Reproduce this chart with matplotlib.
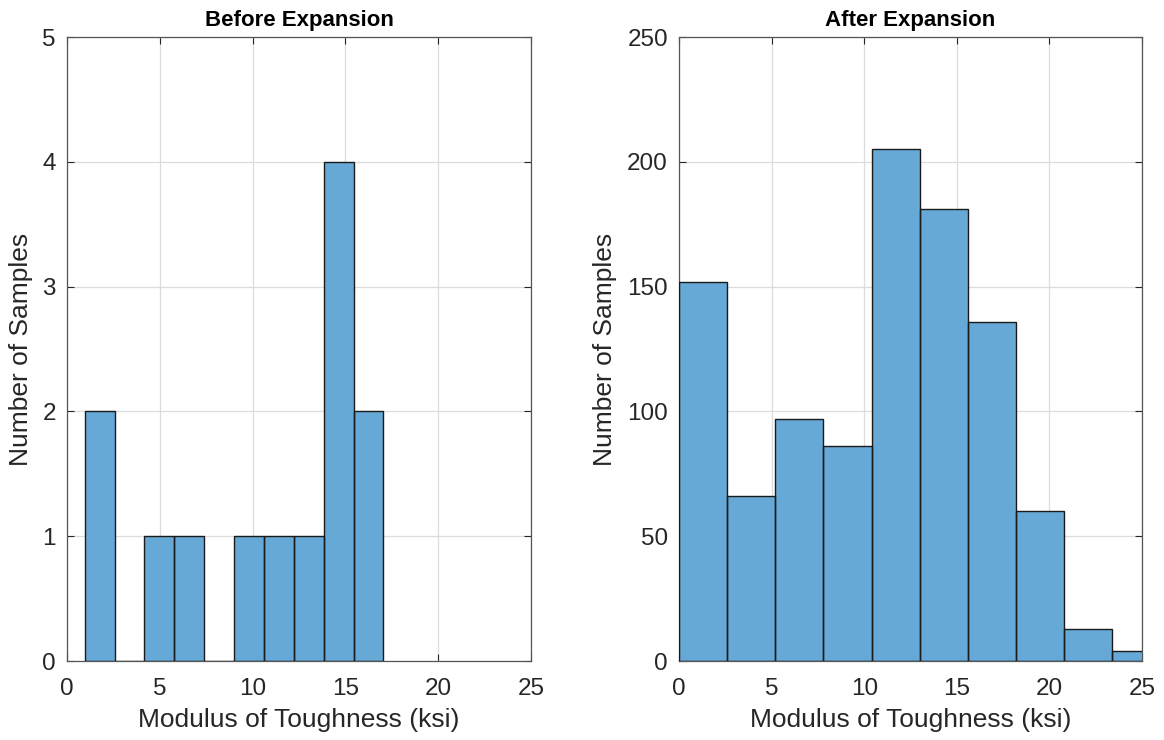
import numpy as np
import matplotlib.pyplot as plt

plt.rcParams['font.family'] = ['Liberation Sans', 'DejaVu Sans']
plt.rcParams['font.stretch'] = 'normal'

# histogram bins and counts, before expansion
before_edges = 0.95 + 1.61 * np.arange(11)
before_counts = [2, 0, 1, 1, 0, 1, 1, 1, 4, 2]

# histogram bins and counts, after expansion
after_edges = 2.6 * np.arange(11)
after_counts = [152, 66, 97, 86, 205, 181, 136, 60, 13, 4]

bar_color = '#66a9d6'
txt_color = '#262626'

fig = plt.figure(figsize=(11.64, 7.4), dpi=100)
ax1 = fig.add_axes([67 / 1164, 1 - 661 / 740, 464 / 1164, 624 / 740])
ax2 = fig.add_axes([679 / 1164, 1 - 661 / 740, 463 / 1164, 624 / 740])


def draw_hist(ax, edges, counts, ymax, yticks, title):
    # filled bins first, then black outlines on top
    ax.stairs(counts, edges, fill=True, color=bar_color, zorder=2)
    widths = np.diff(edges)
    ax.bar(edges[:-1], counts, width=widths, align='edge', fill=False,
           edgecolor='#1a1a1a', linewidth=1.0, zorder=3)
    ax.set_xlim(0, 25)
    ax.set_ylim(0, ymax)
    ax.set_xticks([0, 5, 10, 15, 20, 25])
    ax.set_yticks(yticks)
    ax.grid(True, color='#dcdcdc', linewidth=0.9, zorder=0)
    ax.set_axisbelow(True)
    ax.tick_params(direction='in', length=5, width=0.8, top=True, right=True,
                   labelsize=17.5, colors=txt_color)
    ax.tick_params(axis='x', pad=12)
    ax.tick_params(axis='y', pad=8)
    for s in ax.spines.values():
        s.set_color('#555555')
        s.set_linewidth(0.9)
    ax.set_xlabel('Modulus of Toughness (ksi)', fontsize=19, color=txt_color, labelpad=6)
    ax.set_ylabel('Number of Samples', fontsize=19, color=txt_color, labelpad=7)
    ax.set_title(title, fontsize=16, fontweight='bold', pad=8)


draw_hist(ax1, before_edges, before_counts, 5, [0, 1, 2, 3, 4, 5], 'Before Expansion')
draw_hist(ax2, after_edges, after_counts, 250, [0, 50, 100, 150, 200, 250], 'After Expansion')

fig.savefig('out.png', dpi=100)
